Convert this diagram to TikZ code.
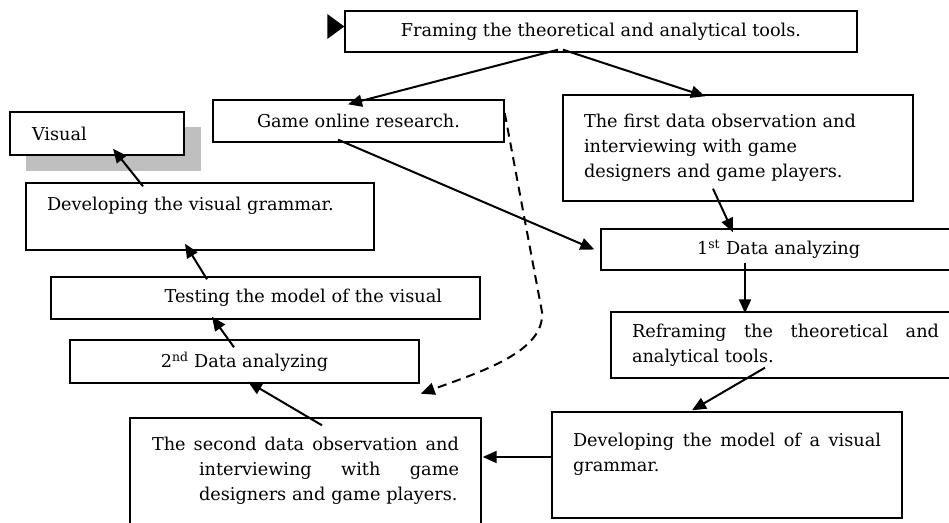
\documentclass[tikz,border=0pt]{standalone}
\usepackage{fontspec}
\setmainfont{DejaVu Serif}
\usetikzlibrary{arrows.meta}
\definecolor{shadowGray}{RGB}{191,191,191}

\begin{document}
\begin{tikzpicture}[x=1pt, y=1pt,
  flowbox/.style={draw=black, line width=1.4pt, fill=white, inner sep=0pt,
                  font=\fontsize{17.7}{25}\selectfont},
  mainarr/.style={-{Triangle[length=14pt,width=12pt]}, line width=2pt},
  dasharr/.style={-{Triangle[length=14pt,width=12pt]}, line width=2pt,
                  dash pattern=on 9pt off 6pt}
]
\clip (0,0) rectangle (949,522);
%% Shadow of the Visual box
\fill[shadowGray] (26,351) rectangle (201,395);
%% Boxes
\node[flowbox, minimum width=512pt, minimum height=41pt] (FRM) at (601,490.5)
  {Framing the theoretical and analytical tools.};
\node[flowbox, minimum width=291pt, minimum height=42pt] (GOR) at (358.5,401)
  {Game online research.};
\node[flowbox, minimum width=174pt, minimum height=43pt, text width=130pt,
      align=left] (VIS) at (97,388.5) {Visual};
\node[flowbox, minimum width=348pt, minimum height=67pt, text width=306pt,
      align=left] (DVG) at (200,305.5) {Developing the visual grammar.\\\mbox{}};
\node[flowbox, minimum width=350pt, minimum height=106pt, text width=308pt,
      align=left] (OBS1) at (738,374)
  {The first data observation and\\interviewing with game\\designers and game players.};
\node[flowbox, minimum width=389pt, minimum height=41pt, text width=197pt,
      align=left] (AN1) at (795.5,272.5) {1\textsuperscript{st} Data analyzing};
\node[flowbox, minimum width=429pt, minimum height=42pt, text width=353pt,
      align=right] (TST) at (265.5,224) {Testing the model of the visual};
\node[flowbox, minimum width=349pt, minimum height=43pt] (AN2) at (244.5,160.5)
  {2\textsuperscript{nd} Data analyzing};
\node[flowbox, minimum width=379pt, minimum height=66pt, text width=337pt,
      align=left] (RFR) at (800.5,177)
  {\makebox[307pt]{Reframing\hfill the\hfill theoretical\hfill and}\\analytical tools.};
\node[flowbox, minimum width=350pt, minimum height=106pt, text width=308pt,
      align=left] (DVM) at (727,57)
  {\makebox[308pt]{Developing\hfill the\hfill model\hfill of\hfill a\hfill visual}\\grammar.\\\mbox{}};
\node[flowbox, minimum width=351pt, minimum height=127pt, text width=307pt,
      align=left] (OBS2) at (305.5,40.5)
  {\makebox[307pt]{The\hfill second\hfill data\hfill observation\hfill and}\\
   \hspace*{47pt}\makebox[260pt]{interviewing\hfill with\hfill game}\\
   \hspace*{47pt}designers and game players.\\\mbox{}};
%% Loose arrow head left of the top box
\fill ([shift={(-17pt,17.5pt)}]FRM.west) -- ([yshift=5pt]FRM.west)
  -- ([shift={(-17pt,-7.5pt)}]FRM.west) -- cycle;
%% Flow
\draw[mainarr] ([shift={(-43pt,3pt)}]FRM.south) -- ([shift={(-10.5pt,-5pt)}]GOR.north);
\draw[mainarr] ([shift={(-38pt,3pt)}]FRM.south) -- ([shift={(-33pt,-2pt)}]OBS1.north);
\draw[mainarr] ([shift={(-20.5pt,3pt)}]GOR.south) -- ([xshift=-6pt]AN1.west);
\draw[mainarr] ([shift={(-25pt,13pt)}]OBS1.south) -- ([shift={(-62.5pt,-4pt)}]AN1.north);
\draw[mainarr] ([shift={(-50.5pt,8pt)}]AN1.south) -- ([shift={(-55.5pt,-2pt)}]RFR.north);
\draw[mainarr] ([shift={(-35.5pt,11pt)}]RFR.south) -- ([shift={(-35pt,1pt)}]DVM.north);
\draw[mainarr] ([yshift=8pt]DVM.west) -- ([shift={(1pt,24.5pt)}]OBS2.east);
\draw[mainarr] ([shift={(16.5pt,-8pt)}]OBS2.north) -- ([shift={(3.5pt,2pt)}]AN2.south);
\draw[mainarr] ([shift={(-10.5pt,-8pt)}]AN2.north) -- ([shift={(-53.5pt,3pt)}]TST.south);
\draw[mainarr] ([shift={(-58.5pt,-3pt)}]TST.north) -- ([shift={(-15pt,7pt)}]DVG.south);
\draw[mainarr] ([shift={(-57pt,-4pt)}]DVG.north) -- ([shift={(16pt,7pt)}]VIS.south);
%% Dashed return
\draw[dasharr] ([yshift=8pt]GOR.east) -- (542,210)
  .. controls (545,170) and (480,150) .. ([shift={(1pt,-10pt)}]AN2.south east);
\end{tikzpicture}
\end{document}
